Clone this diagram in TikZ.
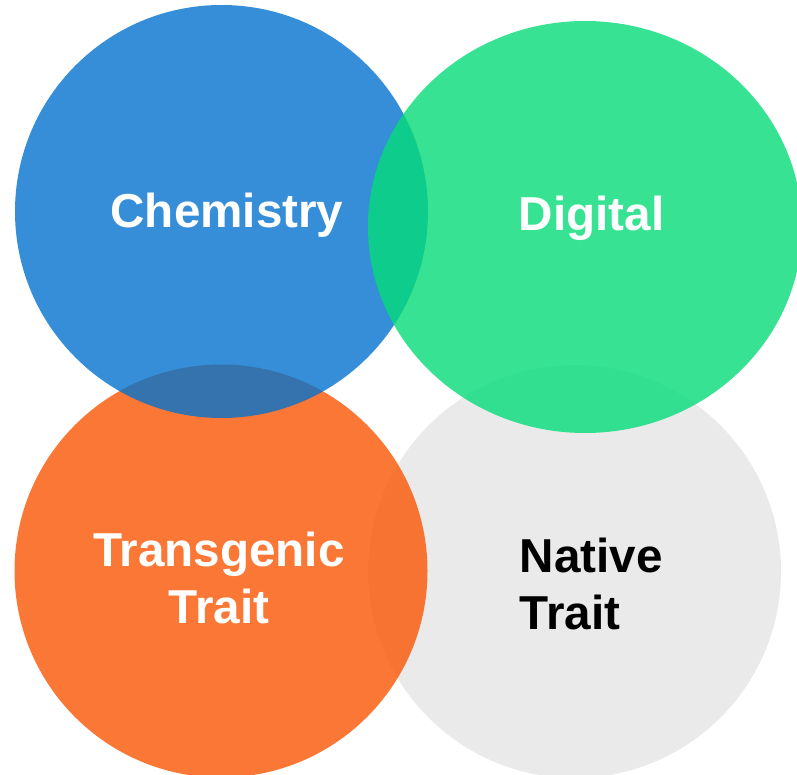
\documentclass[tikz,border=0pt]{standalone}
\usepackage{fontspec}
\setmainfont{Liberation Sans}
\usetikzlibrary{shapes.geometric}
\definecolor{ChemistryColor}{HTML}{0372CD}
\definecolor{DigitalColor}{HTML}{05DC79}
\definecolor{TransgenicColor}{HTML}{FA5603}
\definecolor{NativeColor}{HTML}{E5E5E5}
\tikzset{
  area/.style={circle, draw=none, inner sep=0pt, minimum size=413pt, fill opacity=0.8},
  area label/.style={font=\bfseries\fontsize{47.6}{57}\selectfont, text=white, inner sep=0pt},
}

\begin{document}
\begin{tikzpicture}[x=1pt, y=-1pt]
  \useasboundingbox[fill=white] (0,0) rectangle (797,775);

  % the four fields, back to front
  \node[area, fill=NativeColor] (native) at (574.5,571.5) {};
  \node[area, fill=TransgenicColor] (transgenic) at (221,571) {};
  \node[area, fill=ChemistryColor] (chemistry) at (221.5,211.5) {};
  \node[area, ellipse, fill=DigitalColor, minimum width=434pt, minimum height=412pt] (digital)
    at (585,227) {};

  \node[area label, anchor=base] (chemLabel) at ([xshift=5.5pt,yshift=-16.5pt]chemistry.center) {Chemistry};
  \node[area label, anchor=base] (digiLabel) at ([xshift=6.5pt,yshift=-4pt]digital.center) {Digital};
  \node[area label, align=center] (transLabel) at ([xshift=-2pt,yshift=-7pt]transgenic.center)
    {Transgenic\\Trait};
  \node[area label, align=left, text=black, anchor=west] (nativeLabel)
    at ([xshift=-55pt,yshift=-12.5pt]native.center) {Native\\Trait};
\end{tikzpicture}
\end{document}
